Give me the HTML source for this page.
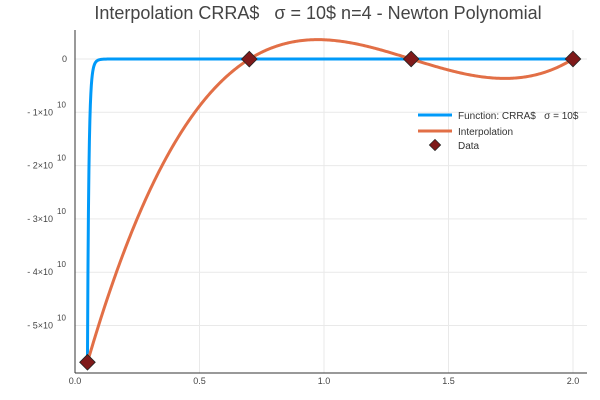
<!DOCTYPE html>
<html><head><meta charset="utf-8"><style>
body{margin:0;background:#fff;}
svg{display:block;font-family:"Liberation Sans","DejaVu Sans",sans-serif;}
text{white-space:pre;}
</style></head><body>
<svg id="chart" width="600" height="400">
<text x="318" y="19" text-anchor="middle" font-size="18" fill="#444">Interpolation CRRA$   σ = 10$ n=4 - Newton Polynomial</text>
<g id="grid"></g><g id="axes"></g>
<defs><clipPath id="clip"><rect x="75" y="30" width="512" height="343"/></clipPath></defs>
<g id="series" clip-path="url(#clip)"></g>
<g id="markers"></g>
<g id="legend">
<line x1="418" y1="115" x2="452" y2="115" stroke="#009af9" stroke-width="3"/>
<text x="458" y="119" font-size="10" fill="#333">Function: CRRA$   σ = 10$</text>
<line x1="418" y1="131" x2="452" y2="131" stroke="#e26f46" stroke-width="3"/>
<text x="458" y="135" font-size="10" fill="#333">Interpolation</text>
<rect x="431" y="141" width="8" height="8" transform="rotate(45 435 145)" fill="#7f1a1a" stroke="#222" stroke-width="0.7"/>
<text x="458" y="149" font-size="10" fill="#333">Data</text>
</g>
</svg>
<script>
const dataX=[0.05,0.7,1.35,2.0];
const dataY=[-5.69e10,-0.0025e10,-0.0001e10,-0.00001e10];
const sigma=[10];
const xTicks=[0,0.5,1.0,1.5,2.0];
const xTickLabels=["0.0","0.5","1.0","1.5","2.0"];
const yTicks=[0,-1e10,-2e10,-3e10,-4e10,-5e10];
const yTickLabels=["0","- 1","- 2","- 3","- 4","- 5"];
const NS="http://www.w3.org/2000/svg";
const X=v=>75+v*249, Y=v=>59-v/1e10*53.3;
function mk(t,a,p){const e=document.createElementNS(NS,t);for(const k in a)e.setAttribute(k,a[k]);p.appendChild(e);return e;}
const grid=document.getElementById('grid'),axes=document.getElementById('axes');
xTicks.forEach((t,i)=>{
 const g=mk('line',{x1:X(t),x2:X(t),y1:30,y2:373,stroke:'#e9e9e9','stroke-width':1},grid);
 
 const tx=mk('text',{x:X(t),y:384,'text-anchor':'middle','font-size':9,fill:'#444'},axes);
 tx.textContent=xTickLabels[i];
 
});
yTicks.forEach((t,i)=>{
 const g=mk('line',{x1:75,x2:587,y1:Y(t),y2:Y(t),stroke:'#e9e9e9','stroke-width':1},grid);
 
 const tx=mk('text',{x:t===0?67:53,y:Y(t)+3,'text-anchor':'end','font-size':9,fill:'#444'},axes);
 
 if(t===0){tx.textContent='0';}
 else{tx.textContent=yTickLabels[i]+'×10';
  const s=mk('text',{x:57,y:Y(t)-5,'font-size':8,fill:'#444'},axes);s.textContent='10';
  }
});
let a=mk('line',{x1:75,x2:75,y1:30,y2:373,stroke:'#333','stroke-width':1},axes);

a=mk('line',{x1:75,x2:587,y1:373,y2:373,stroke:'#333','stroke-width':1},axes);

const sg=sigma[0];let d='';
for(let i=0;i<=1000;i++){const x=dataX[0]+(2.0-dataX[0])*i/1000;const y=Math.pow(x,1-sg)/(1-sg);d+=(i?'L':'M')+X(x).toFixed(2)+','+Y(y).toFixed(2);}
const ser=document.getElementById('series');
let p=mk('path',{d:d,fill:'none',stroke:'#009af9','stroke-width':3},ser);

const n=dataX.length,c=dataY.slice();
for(let j=1;j<n;j++)for(let i=n-1;i>=j;i--)c[i]=(c[i]-c[i-1])/(dataX[i]-dataX[i-j]);
function newton(x){let r=c[n-1];for(let i=n-2;i>=0;i--)r=r*(x-dataX[i])+c[i];return r;}
d='';for(let i=0;i<=400;i++){const x=dataX[0]+(dataX[n-1]-dataX[0])*i/400;d+=(i?'L':'M')+X(x).toFixed(2)+','+Y(newton(x)).toFixed(2);}
p=mk('path',{d:d,fill:'none',stroke:'#e26f46','stroke-width':3},ser);

const mg=document.getElementById('markers');
dataX.forEach((x,i)=>{const cx=X(x),cy=Y(dataY[i]);
 const r=mk('rect',{x:cx-5.5,y:cy-5.5,width:11,height:11,transform:`rotate(45 ${cx} ${cy})`,fill:'#7f1a1a',stroke:'#222','stroke-width':0.8},mg);
 });
</script>
</body></html>
